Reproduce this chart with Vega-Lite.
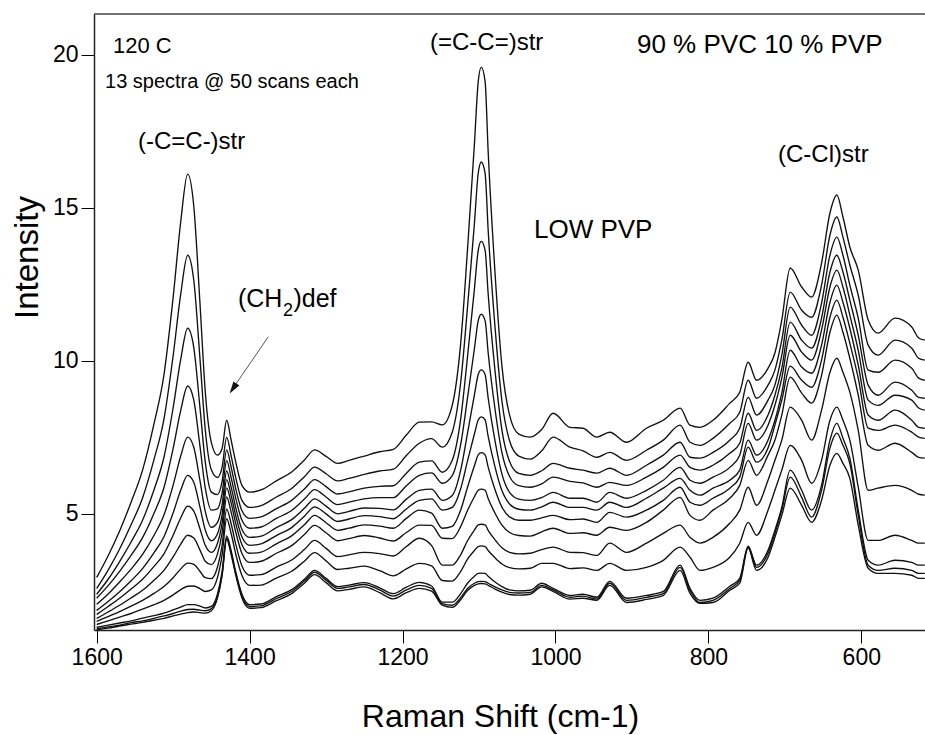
{
"$schema": "https://vega.github.io/schema/vega-lite/v6.json",
"width": 831, "height": 616,
"autosize": {"type": "none"},
"padding": {"left": 94, "top": 14, "right": 0, "bottom": 105},
"background": "white",
"config": {"font": "Liberation Sans", "view": {"stroke": null}},
"layer": [
{
"data": {"values": [
{"s":1,"x":1600,"y":2.91},{"s":1,"x":1585,"y":3.62},{"s":1,"x":1570,"y":4.43},{"s":1,"x":1555,"y":5.37},{"s":1,"x":1540,"y":6.42},{"s":1,"x":1525,"y":7.94},{"s":1,"x":1512,"y":9.54},{"s":1,"x":1500,"y":12.07},{"s":1,"x":1490,"y":14.56},{"s":1,"x":1481,"y":16.10},{"s":1,"x":1473,"y":15.05},{"s":1,"x":1465,"y":11.92},{"s":1,"x":1458,"y":8.99},{"s":1,"x":1450,"y":7.32},{"s":1,"x":1442,"y":6.91},{"s":1,"x":1436,"y":7.13},{"s":1,"x":1430,"y":8.05},{"s":1,"x":1424,"y":7.38},{"s":1,"x":1418,"y":6.67},{"s":1,"x":1410,"y":5.92},{"s":1,"x":1400,"y":5.70},
{"s":1,"x":1385,"y":5.77},{"s":1,"x":1365,"y":6.07},{"s":1,"x":1345,"y":6.36},{"s":1,"x":1328,"y":6.76},{"s":1,"x":1315,"y":7.08},{"s":1,"x":1300,"y":6.87},{"s":1,"x":1285,"y":6.64},{"s":1,"x":1270,"y":6.74},{"s":1,"x":1250,"y":6.88},{"s":1,"x":1230,"y":7.02},{"s":1,"x":1212,"y":7.10},{"s":1,"x":1195,"y":7.57},{"s":1,"x":1178,"y":7.99},{"s":1,"x":1162,"y":8.00},{"s":1,"x":1148,"y":7.90},
{"s":1,"x":1135,"y":8.54},{"s":1,"x":1124,"y":10.55},{"s":1,"x":1115,"y":13.64},{"s":1,"x":1106,"y":17.08},{"s":1,"x":1101,"y":19.13},{"s":1,"x":1097,"y":19.60},{"s":1,"x":1092,"y":19.13},{"s":1,"x":1088,"y":16.84},{"s":1,"x":1079,"y":12.86},{"s":1,"x":1070,"y":9.82},{"s":1,"x":1060,"y":8.22},{"s":1,"x":1048,"y":7.60},
{"s":1,"x":1033,"y":7.50},{"s":1,"x":1018,"y":7.75},{"s":1,"x":1003,"y":8.28},{"s":1,"x":981,"y":7.82},{"s":1,"x":964,"y":7.79},{"s":1,"x":946,"y":7.50},{"s":1,"x":929,"y":7.66},{"s":1,"x":907,"y":7.33},{"s":1,"x":881,"y":7.79},{"s":1,"x":859,"y":8.05},{"s":1,"x":837,"y":8.45},{"s":1,"x":824,"y":7.89},{"s":1,"x":811,"y":7.82},{"s":1,"x":794,"y":8.05},{"s":1,"x":772,"y":8.61},{"s":1,"x":759,"y":8.97},{"s":1,"x":748,"y":9.95},{"s":1,"x":737,"y":9.36},{"s":1,"x":722,"y":9.75},{"s":1,"x":713,"y":10.25},{"s":1,"x":704,"y":11.33},{"s":1,"x":693,"y":13.03},{"s":1,"x":678,"y":12.41},{"s":1,"x":665,"y":12.08},{"s":1,"x":652,"y":13.19},{"s":1,"x":641,"y":14.83},{"s":1,"x":632,"y":15.42},{"s":1,"x":624,"y":14.70},{"s":1,"x":615,"y":13.72},{"s":1,"x":604,"y":12.96},{"s":1,"x":591,"y":11.33},{"s":1,"x":578,"y":10.90},{"s":1,"x":556,"y":11.39},{"s":1,"x":534,"y":11.10},{"s":1,"x":525,"y":10.74},{"s":1,"x":517,"y":10.67},

{"s":2,"x":1600,"y":2.55},{"s":2,"x":1585,"y":3.15},{"s":2,"x":1570,"y":3.84},{"s":2,"x":1555,"y":4.63},{"s":2,"x":1540,"y":5.51},{"s":2,"x":1525,"y":6.77},{"s":2,"x":1512,"y":8.09},{"s":2,"x":1500,"y":10.16},{"s":2,"x":1490,"y":12.19},{"s":2,"x":1481,"y":13.45},{"s":2,"x":1473,"y":12.63},{"s":2,"x":1465,"y":10.10},{"s":2,"x":1458,"y":7.75},{"s":2,"x":1450,"y":6.43},{"s":2,"x":1442,"y":6.18},{"s":2,"x":1436,"y":6.51},{"s":2,"x":1430,"y":7.49},{"s":2,"x":1424,"y":6.87},{"s":2,"x":1418,"y":6.16},{"s":2,"x":1410,"y":5.43},{"s":2,"x":1400,"y":5.20},
{"s":2,"x":1385,"y":5.26},{"s":2,"x":1365,"y":5.54},{"s":2,"x":1345,"y":5.82},{"s":2,"x":1328,"y":6.21},{"s":2,"x":1315,"y":6.52},{"s":2,"x":1300,"y":6.30},{"s":2,"x":1285,"y":6.07},{"s":2,"x":1270,"y":6.15},{"s":2,"x":1250,"y":6.28},{"s":2,"x":1230,"y":6.39},{"s":2,"x":1212,"y":6.45},{"s":2,"x":1195,"y":6.90},{"s":2,"x":1178,"y":7.30},{"s":2,"x":1162,"y":7.45},{"s":2,"x":1148,"y":7.17},
{"s":2,"x":1135,"y":7.66},{"s":2,"x":1124,"y":9.27},{"s":2,"x":1115,"y":11.75},{"s":2,"x":1106,"y":14.48},{"s":2,"x":1101,"y":16.13},{"s":2,"x":1097,"y":16.50},{"s":2,"x":1092,"y":16.13},{"s":2,"x":1088,"y":14.27},{"s":2,"x":1079,"y":11.09},{"s":2,"x":1070,"y":8.68},{"s":2,"x":1060,"y":7.38},{"s":2,"x":1048,"y":6.88},
{"s":2,"x":1033,"y":6.78},{"s":2,"x":1018,"y":7.05},{"s":2,"x":1003,"y":7.50},{"s":2,"x":981,"y":7.17},{"s":2,"x":964,"y":7.05},{"s":2,"x":946,"y":6.84},{"s":2,"x":929,"y":7.00},{"s":2,"x":907,"y":6.74},{"s":2,"x":881,"y":7.07},{"s":2,"x":859,"y":7.40},{"s":2,"x":837,"y":7.89},{"s":2,"x":824,"y":7.33},{"s":2,"x":811,"y":7.23},{"s":2,"x":794,"y":7.46},{"s":2,"x":772,"y":7.95},{"s":2,"x":759,"y":8.31},{"s":2,"x":748,"y":9.36},{"s":2,"x":737,"y":8.77},{"s":2,"x":722,"y":9.20},{"s":2,"x":713,"y":9.69},{"s":2,"x":704,"y":10.67},{"s":2,"x":693,"y":12.24},{"s":2,"x":678,"y":11.65},{"s":2,"x":665,"y":11.42},{"s":2,"x":652,"y":12.47},{"s":2,"x":641,"y":14.11},{"s":2,"x":632,"y":14.70},{"s":2,"x":624,"y":14.04},{"s":2,"x":615,"y":13.13},{"s":2,"x":604,"y":12.14},{"s":2,"x":591,"y":10.51},{"s":2,"x":578,"y":10.18},{"s":2,"x":556,"y":10.67},{"s":2,"x":534,"y":10.41},{"s":2,"x":525,"y":10.08},{"s":2,"x":517,"y":10.02},

{"s":3,"x":1600,"y":2.36},{"s":3,"x":1585,"y":2.85},{"s":3,"x":1570,"y":3.43},{"s":3,"x":1555,"y":4.07},{"s":3,"x":1540,"y":4.78},{"s":3,"x":1525,"y":5.78},{"s":3,"x":1512,"y":6.84},{"s":3,"x":1500,"y":8.46},{"s":3,"x":1490,"y":10.06},{"s":3,"x":1481,"y":11.06},{"s":3,"x":1473,"y":10.43},{"s":3,"x":1465,"y":8.49},{"s":3,"x":1458,"y":6.69},{"s":3,"x":1450,"y":5.70},{"s":3,"x":1442,"y":5.62},{"s":3,"x":1436,"y":6.04},{"s":3,"x":1430,"y":7.08},{"s":3,"x":1424,"y":6.50},{"s":3,"x":1418,"y":5.80},{"s":3,"x":1410,"y":5.09},{"s":3,"x":1400,"y":4.84},
{"s":3,"x":1385,"y":4.89},{"s":3,"x":1365,"y":5.16},{"s":3,"x":1345,"y":5.43},{"s":3,"x":1328,"y":5.81},{"s":3,"x":1315,"y":6.11},{"s":3,"x":1300,"y":5.88},{"s":3,"x":1285,"y":5.64},{"s":3,"x":1270,"y":5.71},{"s":3,"x":1250,"y":5.83},{"s":3,"x":1230,"y":5.89},{"s":3,"x":1212,"y":5.91},{"s":3,"x":1195,"y":6.32},{"s":3,"x":1178,"y":6.68},{"s":3,"x":1162,"y":6.72},{"s":3,"x":1148,"y":6.35},
{"s":3,"x":1135,"y":6.74},{"s":3,"x":1124,"y":8.08},{"s":3,"x":1115,"y":10.13},{"s":3,"x":1106,"y":12.34},{"s":3,"x":1101,"y":13.61},{"s":3,"x":1097,"y":13.90},{"s":3,"x":1092,"y":13.61},{"s":3,"x":1088,"y":12.18},{"s":3,"x":1079,"y":9.66},{"s":3,"x":1070,"y":7.73},{"s":3,"x":1060,"y":6.70},{"s":3,"x":1048,"y":6.31},
{"s":3,"x":1033,"y":6.25},{"s":3,"x":1018,"y":6.40},{"s":3,"x":1003,"y":6.64},{"s":3,"x":981,"y":6.48},{"s":3,"x":964,"y":6.42},{"s":3,"x":946,"y":6.32},{"s":3,"x":929,"y":6.48},{"s":3,"x":907,"y":6.25},{"s":3,"x":881,"y":6.58},{"s":3,"x":859,"y":6.91},{"s":3,"x":837,"y":7.33},{"s":3,"x":824,"y":6.84},{"s":3,"x":811,"y":6.81},{"s":3,"x":794,"y":7.00},{"s":3,"x":772,"y":7.40},{"s":3,"x":759,"y":7.79},{"s":3,"x":748,"y":8.80},{"s":3,"x":737,"y":8.22},{"s":3,"x":722,"y":8.71},{"s":3,"x":713,"y":9.20},{"s":3,"x":704,"y":10.18},{"s":3,"x":693,"y":11.75},{"s":3,"x":678,"y":11.16},{"s":3,"x":665,"y":10.83},{"s":3,"x":652,"y":11.88},{"s":3,"x":641,"y":13.45},{"s":3,"x":632,"y":14.04},{"s":3,"x":624,"y":13.45},{"s":3,"x":615,"y":12.47},{"s":3,"x":604,"y":11.39},{"s":3,"x":591,"y":9.69},{"s":3,"x":578,"y":9.62},{"s":3,"x":556,"y":10.02},{"s":3,"x":534,"y":9.75},{"s":3,"x":525,"y":9.43},{"s":3,"x":517,"y":9.36},

{"s":4,"x":1600,"y":2.23},{"s":4,"x":1585,"y":2.64},{"s":4,"x":1570,"y":3.11},{"s":4,"x":1555,"y":3.63},{"s":4,"x":1540,"y":4.21},{"s":4,"x":1525,"y":5.01},{"s":4,"x":1512,"y":5.85},{"s":4,"x":1500,"y":7.13},{"s":4,"x":1490,"y":8.38},{"s":4,"x":1481,"y":9.17},{"s":4,"x":1473,"y":8.71},{"s":4,"x":1465,"y":7.22},{"s":4,"x":1458,"y":5.84},{"s":4,"x":1450,"y":5.11},{"s":4,"x":1442,"y":5.15},{"s":4,"x":1436,"y":5.66},{"s":4,"x":1430,"y":6.73},{"s":4,"x":1424,"y":6.16},{"s":4,"x":1418,"y":5.49},{"s":4,"x":1410,"y":4.78},{"s":4,"x":1400,"y":4.52},
{"s":4,"x":1385,"y":4.56},{"s":4,"x":1365,"y":4.84},{"s":4,"x":1345,"y":5.10},{"s":4,"x":1328,"y":5.48},{"s":4,"x":1315,"y":5.78},{"s":4,"x":1300,"y":5.54},{"s":4,"x":1285,"y":5.29},{"s":4,"x":1270,"y":5.37},{"s":4,"x":1250,"y":5.48},{"s":4,"x":1230,"y":5.52},{"s":4,"x":1212,"y":5.52},{"s":4,"x":1195,"y":5.91},{"s":4,"x":1178,"y":6.25},{"s":4,"x":1162,"y":6.33},{"s":4,"x":1148,"y":5.99},
{"s":4,"x":1135,"y":6.24},{"s":4,"x":1124,"y":7.25},{"s":4,"x":1115,"y":8.78},{"s":4,"x":1106,"y":10.39},{"s":4,"x":1101,"y":11.31},{"s":4,"x":1097,"y":11.52},{"s":4,"x":1092,"y":11.31},{"s":4,"x":1088,"y":10.26},{"s":4,"x":1079,"y":8.41},{"s":4,"x":1070,"y":6.99},{"s":4,"x":1060,"y":6.21},{"s":4,"x":1048,"y":5.91},
{"s":4,"x":1033,"y":5.86},{"s":4,"x":1018,"y":5.97},{"s":4,"x":1003,"y":6.19},{"s":4,"x":981,"y":6.05},{"s":4,"x":964,"y":6.00},{"s":4,"x":946,"y":5.86},{"s":4,"x":929,"y":6.02},{"s":4,"x":907,"y":5.92},{"s":4,"x":881,"y":6.19},{"s":4,"x":859,"y":6.51},{"s":4,"x":837,"y":6.91},{"s":4,"x":824,"y":6.51},{"s":4,"x":811,"y":6.42},{"s":4,"x":794,"y":6.58},{"s":4,"x":772,"y":6.97},{"s":4,"x":759,"y":7.30},{"s":4,"x":748,"y":8.28},{"s":4,"x":737,"y":7.72},{"s":4,"x":722,"y":8.22},{"s":4,"x":713,"y":8.87},{"s":4,"x":704,"y":9.75},{"s":4,"x":693,"y":11.26},{"s":4,"x":678,"y":10.67},{"s":4,"x":665,"y":10.41},{"s":4,"x":652,"y":11.39},{"s":4,"x":641,"y":12.90},{"s":4,"x":632,"y":13.45},{"s":4,"x":624,"y":12.90},{"s":4,"x":615,"y":11.98},{"s":4,"x":604,"y":10.83},{"s":4,"x":591,"y":9.20},{"s":4,"x":578,"y":8.87},{"s":4,"x":556,"y":9.30},{"s":4,"x":534,"y":9.03},{"s":4,"x":525,"y":8.80},{"s":4,"x":517,"y":8.77},

{"s":5,"x":1600,"y":2.03},{"s":5,"x":1585,"y":2.37},{"s":5,"x":1570,"y":2.76},{"s":5,"x":1555,"y":3.18},{"s":5,"x":1540,"y":3.66},{"s":5,"x":1525,"y":4.29},{"s":5,"x":1512,"y":4.95},{"s":5,"x":1500,"y":5.93},{"s":5,"x":1490,"y":6.89},{"s":5,"x":1481,"y":7.50},{"s":5,"x":1473,"y":7.17},{"s":5,"x":1465,"y":6.09},{"s":5,"x":1458,"y":5.07},{"s":5,"x":1450,"y":4.55},{"s":5,"x":1442,"y":4.71},{"s":5,"x":1436,"y":5.28},{"s":5,"x":1430,"y":6.39},{"s":5,"x":1424,"y":5.85},{"s":5,"x":1418,"y":5.18},{"s":5,"x":1410,"y":4.48},{"s":5,"x":1400,"y":4.22},
{"s":5,"x":1385,"y":4.26},{"s":5,"x":1365,"y":4.54},{"s":5,"x":1345,"y":4.80},{"s":5,"x":1328,"y":5.18},{"s":5,"x":1315,"y":5.48},{"s":5,"x":1300,"y":5.24},{"s":5,"x":1285,"y":4.99},{"s":5,"x":1270,"y":5.07},{"s":5,"x":1250,"y":5.18},{"s":5,"x":1230,"y":5.17},{"s":5,"x":1212,"y":5.12},{"s":5,"x":1195,"y":5.47},{"s":5,"x":1178,"y":5.76},{"s":5,"x":1162,"y":5.80},{"s":5,"x":1148,"y":5.43},
{"s":5,"x":1135,"y":5.59},{"s":5,"x":1124,"y":6.41},{"s":5,"x":1115,"y":7.63},{"s":5,"x":1106,"y":8.88},{"s":5,"x":1101,"y":9.55},{"s":5,"x":1097,"y":9.70},{"s":5,"x":1092,"y":9.55},{"s":5,"x":1088,"y":8.78},{"s":5,"x":1079,"y":7.37},{"s":5,"x":1070,"y":6.29},{"s":5,"x":1060,"y":5.69},{"s":5,"x":1048,"y":5.47},
{"s":5,"x":1033,"y":5.43},{"s":5,"x":1018,"y":5.52},{"s":5,"x":1003,"y":5.69},{"s":5,"x":981,"y":5.50},{"s":5,"x":964,"y":5.50},{"s":5,"x":946,"y":5.37},{"s":5,"x":929,"y":5.69},{"s":5,"x":907,"y":5.50},{"s":5,"x":881,"y":5.76},{"s":5,"x":859,"y":6.09},{"s":5,"x":837,"y":6.51},{"s":5,"x":824,"y":6.09},{"s":5,"x":811,"y":5.99},{"s":5,"x":794,"y":6.19},{"s":5,"x":772,"y":6.51},{"s":5,"x":759,"y":6.91},{"s":5,"x":748,"y":7.95},{"s":5,"x":737,"y":7.40},{"s":5,"x":722,"y":7.89},{"s":5,"x":713,"y":8.54},{"s":5,"x":704,"y":9.43},{"s":5,"x":693,"y":10.83},{"s":5,"x":678,"y":10.28},{"s":5,"x":665,"y":10.02},{"s":5,"x":652,"y":11.00},{"s":5,"x":641,"y":12.41},{"s":5,"x":632,"y":12.96},{"s":5,"x":624,"y":12.41},{"s":5,"x":615,"y":11.49},{"s":5,"x":604,"y":10.34},{"s":5,"x":591,"y":8.71},{"s":5,"x":578,"y":8.54},{"s":5,"x":556,"y":8.87},{"s":5,"x":534,"y":8.71},{"s":5,"x":525,"y":8.45},{"s":5,"x":517,"y":8.38},

{"s":6,"x":1600,"y":1.83},{"s":6,"x":1585,"y":2.12},{"s":6,"x":1570,"y":2.44},{"s":6,"x":1555,"y":2.80},{"s":6,"x":1540,"y":3.20},{"s":6,"x":1525,"y":3.72},{"s":6,"x":1512,"y":4.24},{"s":6,"x":1500,"y":5.02},{"s":6,"x":1490,"y":5.77},{"s":6,"x":1481,"y":6.25},{"s":6,"x":1473,"y":6.02},{"s":6,"x":1465,"y":5.22},{"s":6,"x":1458,"y":4.46},{"s":6,"x":1450,"y":4.11},{"s":6,"x":1442,"y":4.34},{"s":6,"x":1436,"y":4.96},{"s":6,"x":1430,"y":6.11},{"s":6,"x":1424,"y":5.58},{"s":6,"x":1418,"y":4.92},{"s":6,"x":1410,"y":4.23},{"s":6,"x":1400,"y":3.96},
{"s":6,"x":1385,"y":4.01},{"s":6,"x":1365,"y":4.28},{"s":6,"x":1345,"y":4.54},{"s":6,"x":1328,"y":4.92},{"s":6,"x":1315,"y":5.22},{"s":6,"x":1300,"y":4.99},{"s":6,"x":1285,"y":4.74},{"s":6,"x":1270,"y":4.82},{"s":6,"x":1250,"y":4.93},{"s":6,"x":1230,"y":4.90},{"s":6,"x":1212,"y":4.83},{"s":6,"x":1195,"y":5.15},{"s":6,"x":1178,"y":5.43},{"s":6,"x":1162,"y":5.48},{"s":6,"x":1148,"y":5.11},
{"s":6,"x":1135,"y":5.20},{"s":6,"x":1124,"y":5.81},{"s":6,"x":1115,"y":6.72},{"s":6,"x":1106,"y":7.60},{"s":6,"x":1101,"y":8.06},{"s":6,"x":1097,"y":8.16},{"s":6,"x":1092,"y":8.06},{"s":6,"x":1088,"y":7.52},{"s":6,"x":1079,"y":6.52},{"s":6,"x":1070,"y":5.75},{"s":6,"x":1060,"y":5.31},{"s":6,"x":1048,"y":5.14},
{"s":6,"x":1033,"y":5.11},{"s":6,"x":1018,"y":5.22},{"s":6,"x":1003,"y":5.37},{"s":6,"x":981,"y":5.20},{"s":6,"x":964,"y":5.20},{"s":6,"x":946,"y":5.11},{"s":6,"x":929,"y":5.37},{"s":6,"x":907,"y":5.20},{"s":6,"x":881,"y":5.50},{"s":6,"x":859,"y":5.83},{"s":6,"x":837,"y":6.15},{"s":6,"x":824,"y":5.76},{"s":6,"x":811,"y":5.60},{"s":6,"x":794,"y":5.83},{"s":6,"x":772,"y":6.09},{"s":6,"x":759,"y":6.42},{"s":6,"x":748,"y":7.40},{"s":6,"x":737,"y":6.91},{"s":6,"x":722,"y":7.40},{"s":6,"x":713,"y":8.05},{"s":6,"x":704,"y":8.94},{"s":6,"x":693,"y":10.34},{"s":6,"x":678,"y":9.79},{"s":6,"x":665,"y":9.59},{"s":6,"x":652,"y":10.51},{"s":6,"x":641,"y":11.91},{"s":6,"x":632,"y":12.47},{"s":6,"x":624,"y":11.91},{"s":6,"x":615,"y":11.06},{"s":6,"x":604,"y":9.85},{"s":6,"x":591,"y":8.22},{"s":6,"x":578,"y":8.05},{"s":6,"x":556,"y":8.38},{"s":6,"x":534,"y":8.05},{"s":6,"x":525,"y":7.82},{"s":6,"x":517,"y":7.79},

{"s":7,"x":1600,"y":1.70},{"s":7,"x":1585,"y":1.96},{"s":7,"x":1570,"y":2.23},{"s":7,"x":1555,"y":2.53},{"s":7,"x":1540,"y":2.85},{"s":7,"x":1525,"y":3.27},{"s":7,"x":1512,"y":3.68},{"s":7,"x":1500,"y":4.29},{"s":7,"x":1490,"y":4.86},{"s":7,"x":1481,"y":5.24},{"s":7,"x":1473,"y":5.08},{"s":7,"x":1465,"y":4.51},{"s":7,"x":1458,"y":3.96},{"s":7,"x":1450,"y":3.73},{"s":7,"x":1442,"y":4.03},{"s":7,"x":1436,"y":4.68},{"s":7,"x":1430,"y":5.84},{"s":7,"x":1424,"y":5.33},{"s":7,"x":1418,"y":4.66},{"s":7,"x":1410,"y":3.98},{"s":7,"x":1400,"y":3.70},
{"s":7,"x":1385,"y":3.74},{"s":7,"x":1365,"y":4.01},{"s":7,"x":1345,"y":4.27},{"s":7,"x":1328,"y":4.64},{"s":7,"x":1315,"y":4.94},{"s":7,"x":1300,"y":4.70},{"s":7,"x":1285,"y":4.45},{"s":7,"x":1270,"y":4.52},{"s":7,"x":1250,"y":4.63},{"s":7,"x":1230,"y":4.59},{"s":7,"x":1212,"y":4.52},{"s":7,"x":1195,"y":4.84},{"s":7,"x":1178,"y":5.11},{"s":7,"x":1162,"y":5.01},{"s":7,"x":1148,"y":4.52},
{"s":7,"x":1135,"y":4.58},{"s":7,"x":1124,"y":5.11},{"s":7,"x":1115,"y":5.86},{"s":7,"x":1106,"y":6.56},{"s":7,"x":1101,"y":6.92},{"s":7,"x":1097,"y":6.99},{"s":7,"x":1092,"y":6.92},{"s":7,"x":1088,"y":6.52},{"s":7,"x":1079,"y":5.78},{"s":7,"x":1070,"y":5.21},{"s":7,"x":1060,"y":4.89},{"s":7,"x":1048,"y":4.78},
{"s":7,"x":1033,"y":4.78},{"s":7,"x":1018,"y":4.86},{"s":7,"x":1003,"y":4.94},{"s":7,"x":981,"y":4.80},{"s":7,"x":964,"y":4.82},{"s":7,"x":946,"y":4.71},{"s":7,"x":929,"y":5.04},{"s":7,"x":907,"y":4.88},{"s":7,"x":881,"y":5.11},{"s":7,"x":859,"y":5.43},{"s":7,"x":837,"y":5.86},{"s":7,"x":824,"y":5.37},{"s":7,"x":811,"y":5.27},{"s":7,"x":794,"y":5.50},{"s":7,"x":772,"y":5.83},{"s":7,"x":759,"y":6.19},{"s":7,"x":748,"y":7.17},{"s":7,"x":737,"y":6.68},{"s":7,"x":722,"y":7.14},{"s":7,"x":713,"y":7.89},{"s":7,"x":704,"y":8.71},{"s":7,"x":693,"y":9.82},{"s":7,"x":678,"y":9.36},{"s":7,"x":665,"y":9.13},{"s":7,"x":652,"y":10.02},{"s":7,"x":641,"y":11.42},{"s":7,"x":632,"y":11.98},{"s":7,"x":624,"y":11.42},{"s":7,"x":615,"y":10.57},{"s":7,"x":604,"y":9.43},{"s":7,"x":591,"y":7.79},{"s":7,"x":578,"y":7.72},{"s":7,"x":556,"y":7.89},{"s":7,"x":534,"y":7.66},{"s":7,"x":525,"y":7.50},{"s":7,"x":517,"y":7.46},

{"s":8,"x":1600,"y":1.57},{"s":8,"x":1585,"y":1.78},{"s":8,"x":1570,"y":2.00},{"s":8,"x":1555,"y":2.24},{"s":8,"x":1540,"y":2.49},{"s":8,"x":1525,"y":2.82},{"s":8,"x":1512,"y":3.14},{"s":8,"x":1500,"y":3.58},{"s":8,"x":1490,"y":4.00},{"s":8,"x":1481,"y":4.29},{"s":8,"x":1473,"y":4.20},{"s":8,"x":1465,"y":3.81},{"s":8,"x":1458,"y":3.44},{"s":8,"x":1450,"y":3.33},{"s":8,"x":1442,"y":3.68},{"s":8,"x":1436,"y":4.36},{"s":8,"x":1430,"y":5.54},{"s":8,"x":1424,"y":5.03},{"s":8,"x":1418,"y":4.38},{"s":8,"x":1410,"y":3.69},{"s":8,"x":1400,"y":3.40},
{"s":8,"x":1385,"y":3.44},{"s":8,"x":1365,"y":3.70},{"s":8,"x":1345,"y":3.95},{"s":8,"x":1328,"y":4.32},{"s":8,"x":1315,"y":4.61},{"s":8,"x":1300,"y":4.37},{"s":8,"x":1285,"y":4.11},{"s":8,"x":1270,"y":4.18},{"s":8,"x":1250,"y":4.28},{"s":8,"x":1230,"y":4.20},{"s":8,"x":1212,"y":4.10},{"s":8,"x":1195,"y":4.38},{"s":8,"x":1178,"y":4.62},{"s":8,"x":1162,"y":4.61},{"s":8,"x":1148,"y":4.19},
{"s":8,"x":1135,"y":4.18},{"s":8,"x":1124,"y":4.57},{"s":8,"x":1115,"y":5.10},{"s":8,"x":1106,"y":5.55},{"s":8,"x":1101,"y":5.76},{"s":8,"x":1097,"y":5.80},{"s":8,"x":1092,"y":5.76},{"s":8,"x":1088,"y":5.49},{"s":8,"x":1079,"y":5.01},{"s":8,"x":1070,"y":4.62},{"s":8,"x":1060,"y":4.38},{"s":8,"x":1048,"y":4.28},
{"s":8,"x":1033,"y":4.26},{"s":8,"x":1018,"y":4.40},{"s":8,"x":1003,"y":4.52},{"s":8,"x":981,"y":4.35},{"s":8,"x":964,"y":4.37},{"s":8,"x":946,"y":4.29},{"s":8,"x":929,"y":4.55},{"s":8,"x":907,"y":4.45},{"s":8,"x":881,"y":4.71},{"s":8,"x":859,"y":5.11},{"s":8,"x":837,"y":5.53},{"s":8,"x":824,"y":4.94},{"s":8,"x":811,"y":4.78},{"s":8,"x":794,"y":5.11},{"s":8,"x":772,"y":5.50},{"s":8,"x":759,"y":5.92},{"s":8,"x":748,"y":6.74},{"s":8,"x":737,"y":6.25},{"s":8,"x":722,"y":6.91},{"s":8,"x":713,"y":7.40},{"s":8,"x":704,"y":8.22},{"s":8,"x":693,"y":9.46},{"s":8,"x":678,"y":8.94},{"s":8,"x":665,"y":8.61},{"s":8,"x":652,"y":9.52},{"s":8,"x":641,"y":10.93},{"s":8,"x":632,"y":11.49},{"s":8,"x":624,"y":10.93},{"s":8,"x":615,"y":10.08},{"s":8,"x":604,"y":8.87},{"s":8,"x":591,"y":7.23},{"s":8,"x":578,"y":7.07},{"s":8,"x":556,"y":7.30},{"s":8,"x":534,"y":7.00},{"s":8,"x":525,"y":6.84},{"s":8,"x":517,"y":6.81},

{"s":9,"x":1600,"y":1.47},{"s":9,"x":1585,"y":1.63},{"s":9,"x":1570,"y":1.79},{"s":9,"x":1555,"y":1.97},{"s":9,"x":1540,"y":2.16},{"s":9,"x":1525,"y":2.39},{"s":9,"x":1512,"y":2.61},{"s":9,"x":1500,"y":2.90},{"s":9,"x":1490,"y":3.19},{"s":9,"x":1481,"y":3.38},{"s":9,"x":1473,"y":3.34},{"s":9,"x":1465,"y":3.11},{"s":9,"x":1458,"y":2.90},{"s":9,"x":1450,"y":2.87},{"s":9,"x":1442,"y":3.25},{"s":9,"x":1436,"y":3.95},{"s":9,"x":1430,"y":5.14},{"s":9,"x":1424,"y":4.65},{"s":9,"x":1418,"y":3.98},{"s":9,"x":1410,"y":3.28},{"s":9,"x":1400,"y":2.98},
{"s":9,"x":1385,"y":3.00},{"s":9,"x":1365,"y":3.25},{"s":9,"x":1345,"y":3.48},{"s":9,"x":1328,"y":3.83},{"s":9,"x":1315,"y":4.12},{"s":9,"x":1300,"y":3.86},{"s":9,"x":1285,"y":3.59},{"s":9,"x":1270,"y":3.65},{"s":9,"x":1250,"y":3.73},{"s":9,"x":1230,"y":3.69},{"s":9,"x":1212,"y":3.61},{"s":9,"x":1195,"y":3.92},{"s":9,"x":1178,"y":4.19},{"s":9,"x":1162,"y":3.95},{"s":9,"x":1148,"y":3.31},
{"s":9,"x":1135,"y":3.31},{"s":9,"x":1124,"y":3.65},{"s":9,"x":1115,"y":4.11},{"s":9,"x":1106,"y":4.46},{"s":9,"x":1101,"y":4.63},{"s":9,"x":1097,"y":4.65},{"s":9,"x":1092,"y":4.63},{"s":9,"x":1088,"y":4.45},{"s":9,"x":1079,"y":4.14},{"s":9,"x":1070,"y":3.88},{"s":9,"x":1060,"y":3.73},{"s":9,"x":1048,"y":3.68},
{"s":9,"x":1033,"y":3.70},{"s":9,"x":1018,"y":3.82},{"s":9,"x":1003,"y":3.90},{"s":9,"x":981,"y":3.73},{"s":9,"x":964,"y":3.72},{"s":9,"x":946,"y":3.63},{"s":9,"x":929,"y":4.03},{"s":9,"x":907,"y":3.73},{"s":9,"x":881,"y":4.03},{"s":9,"x":859,"y":4.35},{"s":9,"x":837,"y":4.62},{"s":9,"x":824,"y":4.22},{"s":9,"x":811,"y":4.03},{"s":9,"x":794,"y":4.22},{"s":9,"x":772,"y":4.68},{"s":9,"x":759,"y":5.11},{"s":9,"x":748,"y":5.86},{"s":9,"x":737,"y":5.27},{"s":9,"x":722,"y":6.09},{"s":9,"x":713,"y":6.74},{"s":9,"x":704,"y":7.40},{"s":9,"x":693,"y":8.48},{"s":9,"x":678,"y":8.05},{"s":9,"x":665,"y":7.40},{"s":9,"x":652,"y":8.38},{"s":9,"x":641,"y":9.62},{"s":9,"x":632,"y":10.08},{"s":9,"x":624,"y":9.62},{"s":9,"x":615,"y":8.97},{"s":9,"x":604,"y":7.72},{"s":9,"x":591,"y":5.76},{"s":9,"x":578,"y":5.83},{"s":9,"x":556,"y":5.92},{"s":9,"x":534,"y":5.76},{"s":9,"x":525,"y":5.63},{"s":9,"x":517,"y":5.60},

{"s":10,"x":1600,"y":1.37},{"s":10,"x":1585,"y":1.49},{"s":10,"x":1570,"y":1.61},{"s":10,"x":1555,"y":1.73},{"s":10,"x":1540,"y":1.87},{"s":10,"x":1525,"y":2.02},{"s":10,"x":1512,"y":2.16},{"s":10,"x":1500,"y":2.34},{"s":10,"x":1490,"y":2.51},{"s":10,"x":1481,"y":2.62},{"s":10,"x":1473,"y":2.63},{"s":10,"x":1465,"y":2.54},{"s":10,"x":1458,"y":2.45},{"s":10,"x":1450,"y":2.50},{"s":10,"x":1442,"y":2.91},{"s":10,"x":1436,"y":3.64},{"s":10,"x":1430,"y":4.83},{"s":10,"x":1424,"y":4.33},{"s":10,"x":1418,"y":3.66},{"s":10,"x":1410,"y":2.97},{"s":10,"x":1400,"y":2.65},
{"s":10,"x":1385,"y":2.66},{"s":10,"x":1365,"y":2.89},{"s":10,"x":1345,"y":3.11},{"s":10,"x":1328,"y":3.45},{"s":10,"x":1315,"y":3.72},{"s":10,"x":1300,"y":3.45},{"s":10,"x":1285,"y":3.17},{"s":10,"x":1270,"y":3.21},{"s":10,"x":1250,"y":3.28},{"s":10,"x":1230,"y":3.13},{"s":10,"x":1212,"y":2.96},{"s":10,"x":1195,"y":3.19},{"s":10,"x":1178,"y":3.37},{"s":10,"x":1162,"y":3.29},{"s":10,"x":1148,"y":2.81},
{"s":10,"x":1135,"y":2.79},{"s":10,"x":1124,"y":3.10},{"s":10,"x":1115,"y":3.51},{"s":10,"x":1106,"y":3.79},{"s":10,"x":1101,"y":3.92},{"s":10,"x":1097,"y":3.94},{"s":10,"x":1092,"y":3.92},{"s":10,"x":1088,"y":3.79},{"s":10,"x":1079,"y":3.55},{"s":10,"x":1070,"y":3.35},{"s":10,"x":1060,"y":3.23},{"s":10,"x":1048,"y":3.19},
{"s":10,"x":1033,"y":3.21},{"s":10,"x":1018,"y":3.37},{"s":10,"x":1003,"y":3.37},{"s":10,"x":981,"y":3.20},{"s":10,"x":964,"y":3.22},{"s":10,"x":946,"y":3.14},{"s":10,"x":929,"y":3.37},{"s":10,"x":907,"y":3.14},{"s":10,"x":881,"y":3.24},{"s":10,"x":859,"y":3.47},{"s":10,"x":837,"y":3.90},{"s":10,"x":824,"y":3.57},{"s":10,"x":811,"y":3.14},{"s":10,"x":794,"y":3.24},{"s":10,"x":772,"y":3.57},{"s":10,"x":759,"y":4.03},{"s":10,"x":748,"y":4.71},{"s":10,"x":737,"y":4.29},{"s":10,"x":722,"y":5.11},{"s":10,"x":713,"y":5.76},{"s":10,"x":704,"y":6.42},{"s":10,"x":693,"y":7.23},{"s":10,"x":678,"y":6.74},{"s":10,"x":665,"y":5.99},{"s":10,"x":652,"y":6.74},{"s":10,"x":641,"y":8.05},{"s":10,"x":632,"y":8.48},{"s":10,"x":624,"y":8.05},{"s":10,"x":615,"y":7.40},{"s":10,"x":604,"y":5.86},{"s":10,"x":591,"y":4.12},{"s":10,"x":578,"y":4.12},{"s":10,"x":556,"y":4.29},{"s":10,"x":534,"y":4.12},{"s":10,"x":525,"y":4.03},{"s":10,"x":517,"y":4.03},

{"s":11,"x":1600,"y":1.28},{"s":11,"x":1585,"y":1.35},{"s":11,"x":1570,"y":1.42},{"s":11,"x":1555,"y":1.49},{"s":11,"x":1540,"y":1.58},{"s":11,"x":1525,"y":1.66},{"s":11,"x":1512,"y":1.74},{"s":11,"x":1500,"y":1.85},{"s":11,"x":1490,"y":1.94},{"s":11,"x":1481,"y":2.02},{"s":11,"x":1473,"y":2.02},{"s":11,"x":1465,"y":1.97},{"s":11,"x":1458,"y":1.91},{"s":11,"x":1450,"y":1.96},{"s":11,"x":1442,"y":2.37},{"s":11,"x":1436,"y":3.09},{"s":11,"x":1430,"y":4.27},{"s":11,"x":1424,"y":3.77},{"s":11,"x":1418,"y":3.08},{"s":11,"x":1410,"y":2.36},{"s":11,"x":1400,"y":2.02},
{"s":11,"x":1385,"y":2.04},{"s":11,"x":1365,"y":2.28},{"s":11,"x":1345,"y":2.51},{"s":11,"x":1328,"y":2.86},{"s":11,"x":1315,"y":3.14},{"s":11,"x":1300,"y":2.88},{"s":11,"x":1285,"y":2.61},{"s":11,"x":1270,"y":2.66},{"s":11,"x":1250,"y":2.74},{"s":11,"x":1230,"y":2.57},{"s":11,"x":1212,"y":2.38},{"s":11,"x":1195,"y":2.59},{"s":11,"x":1178,"y":2.75},{"s":11,"x":1162,"y":2.63},{"s":11,"x":1148,"y":2.10},
{"s":11,"x":1135,"y":2.10},{"s":11,"x":1124,"y":2.38},{"s":11,"x":1115,"y":2.72},{"s":11,"x":1106,"y":2.95},{"s":11,"x":1101,"y":3.04},{"s":11,"x":1097,"y":3.05},{"s":11,"x":1092,"y":3.04},{"s":11,"x":1088,"y":2.95},{"s":11,"x":1079,"y":2.76},{"s":11,"x":1070,"y":2.61},{"s":11,"x":1060,"y":2.50},{"s":11,"x":1048,"y":2.47},
{"s":11,"x":1033,"y":2.49},{"s":11,"x":1018,"y":2.72},{"s":11,"x":1003,"y":2.55},{"s":11,"x":981,"y":2.32},{"s":11,"x":964,"y":2.36},{"s":11,"x":946,"y":2.26},{"s":11,"x":929,"y":2.78},{"s":11,"x":907,"y":2.23},{"s":11,"x":881,"y":2.32},{"s":11,"x":859,"y":2.45},{"s":11,"x":837,"y":3.31},{"s":11,"x":824,"y":2.55},{"s":11,"x":811,"y":2.16},{"s":11,"x":794,"y":2.23},{"s":11,"x":772,"y":2.62},{"s":11,"x":759,"y":2.88},{"s":11,"x":748,"y":3.93},{"s":11,"x":737,"y":3.31},{"s":11,"x":722,"y":3.80},{"s":11,"x":713,"y":4.45},{"s":11,"x":704,"y":5.20},{"s":11,"x":693,"y":6.42},{"s":11,"x":678,"y":5.76},{"s":11,"x":665,"y":5.11},{"s":11,"x":652,"y":5.92},{"s":11,"x":641,"y":7.40},{"s":11,"x":632,"y":7.95},{"s":11,"x":624,"y":7.46},{"s":11,"x":615,"y":6.81},{"s":11,"x":604,"y":5.11},{"s":11,"x":591,"y":3.47},{"s":11,"x":578,"y":3.31},{"s":11,"x":556,"y":3.47},{"s":11,"x":534,"y":3.40},{"s":11,"x":525,"y":3.31},{"s":11,"x":517,"y":3.31},

{"s":12,"x":1600,"y":1.23},{"s":12,"x":1585,"y":1.29},{"s":12,"x":1570,"y":1.35},{"s":12,"x":1555,"y":1.43},{"s":12,"x":1540,"y":1.49},{"s":12,"x":1525,"y":1.57},{"s":12,"x":1512,"y":1.65},{"s":12,"x":1500,"y":1.73},{"s":12,"x":1490,"y":1.81},{"s":12,"x":1481,"y":1.86},{"s":12,"x":1473,"y":1.87},{"s":12,"x":1465,"y":1.84},{"s":12,"x":1458,"y":1.82},{"s":12,"x":1450,"y":1.89},{"s":12,"x":1442,"y":2.29},{"s":12,"x":1436,"y":3.02},{"s":12,"x":1430,"y":4.21},{"s":12,"x":1424,"y":3.70},{"s":12,"x":1418,"y":3.02},{"s":12,"x":1410,"y":2.30},{"s":12,"x":1400,"y":1.96},
{"s":12,"x":1385,"y":1.98},{"s":12,"x":1365,"y":2.22},{"s":12,"x":1345,"y":2.45},{"s":12,"x":1328,"y":2.80},{"s":12,"x":1315,"y":3.08},{"s":12,"x":1300,"y":2.82},{"s":12,"x":1285,"y":2.55},{"s":12,"x":1270,"y":2.60},{"s":12,"x":1250,"y":2.68},{"s":12,"x":1230,"y":2.50},{"s":12,"x":1212,"y":2.30},{"s":12,"x":1195,"y":2.50},{"s":12,"x":1178,"y":2.65},{"s":12,"x":1162,"y":2.55},{"s":12,"x":1148,"y":2.05},
{"s":12,"x":1135,"y":2.00},{"s":12,"x":1124,"y":2.25},{"s":12,"x":1115,"y":2.55},{"s":12,"x":1106,"y":2.72},{"s":12,"x":1101,"y":2.77},{"s":12,"x":1097,"y":2.78},{"s":12,"x":1092,"y":2.77},{"s":12,"x":1088,"y":2.72},{"s":12,"x":1079,"y":2.60},{"s":12,"x":1070,"y":2.50},{"s":12,"x":1060,"y":2.42},{"s":12,"x":1048,"y":2.40},
{"s":12,"x":1033,"y":2.42},{"s":12,"x":1018,"y":2.65},{"s":12,"x":1003,"y":2.50},{"s":12,"x":981,"y":2.26},{"s":12,"x":964,"y":2.30},{"s":12,"x":946,"y":2.20},{"s":12,"x":929,"y":2.72},{"s":12,"x":907,"y":2.16},{"s":12,"x":881,"y":2.26},{"s":12,"x":859,"y":2.39},{"s":12,"x":837,"y":3.24},{"s":12,"x":824,"y":2.49},{"s":12,"x":811,"y":2.09},{"s":12,"x":794,"y":2.16},{"s":12,"x":772,"y":2.55},{"s":12,"x":759,"y":2.81},{"s":12,"x":748,"y":3.90},{"s":12,"x":737,"y":3.24},{"s":12,"x":722,"y":3.70},{"s":12,"x":713,"y":4.35},{"s":12,"x":704,"y":5.11},{"s":12,"x":693,"y":6.19},{"s":12,"x":678,"y":5.53},{"s":12,"x":665,"y":4.88},{"s":12,"x":652,"y":5.76},{"s":12,"x":641,"y":7.14},{"s":12,"x":632,"y":7.63},{"s":12,"x":624,"y":7.23},{"s":12,"x":615,"y":6.64},{"s":12,"x":604,"y":4.94},{"s":12,"x":591,"y":3.31},{"s":12,"x":578,"y":3.14},{"s":12,"x":556,"y":3.21},{"s":12,"x":534,"y":3.14},{"s":12,"x":525,"y":3.04},{"s":12,"x":517,"y":3.04},

{"s":13,"x":1600,"y":1.20},{"s":13,"x":1585,"y":1.25},{"s":13,"x":1570,"y":1.32},{"s":13,"x":1555,"y":1.38},{"s":13,"x":1540,"y":1.44},{"s":13,"x":1525,"y":1.51},{"s":13,"x":1512,"y":1.57},{"s":13,"x":1500,"y":1.65},{"s":13,"x":1490,"y":1.71},{"s":13,"x":1481,"y":1.76},{"s":13,"x":1473,"y":1.78},{"s":13,"x":1465,"y":1.76},{"s":13,"x":1458,"y":1.74},{"s":13,"x":1450,"y":1.82},{"s":13,"x":1442,"y":2.24},{"s":13,"x":1436,"y":2.96},{"s":13,"x":1430,"y":4.15},{"s":13,"x":1424,"y":3.64},{"s":13,"x":1418,"y":2.97},{"s":13,"x":1410,"y":2.24},{"s":13,"x":1400,"y":1.90},
{"s":13,"x":1385,"y":1.92},{"s":13,"x":1365,"y":2.15},{"s":13,"x":1345,"y":2.38},{"s":13,"x":1328,"y":2.73},{"s":13,"x":1315,"y":3.00},{"s":13,"x":1300,"y":2.74},{"s":13,"x":1285,"y":2.47},{"s":13,"x":1270,"y":2.52},{"s":13,"x":1250,"y":2.60},{"s":13,"x":1230,"y":2.41},{"s":13,"x":1212,"y":2.21},{"s":13,"x":1195,"y":2.41},{"s":13,"x":1178,"y":2.55},{"s":13,"x":1162,"y":2.46},{"s":13,"x":1148,"y":2.00},
{"s":13,"x":1135,"y":1.93},{"s":13,"x":1124,"y":2.18},{"s":13,"x":1115,"y":2.48},{"s":13,"x":1106,"y":2.65},{"s":13,"x":1101,"y":2.70},{"s":13,"x":1097,"y":2.71},{"s":13,"x":1092,"y":2.70},{"s":13,"x":1088,"y":2.65},{"s":13,"x":1079,"y":2.53},{"s":13,"x":1070,"y":2.43},{"s":13,"x":1060,"y":2.35},{"s":13,"x":1048,"y":2.33},
{"s":13,"x":1033,"y":2.36},{"s":13,"x":1018,"y":2.60},{"s":13,"x":1003,"y":2.45},{"s":13,"x":981,"y":2.20},{"s":13,"x":964,"y":2.23},{"s":13,"x":946,"y":2.16},{"s":13,"x":929,"y":2.65},{"s":13,"x":907,"y":2.09},{"s":13,"x":881,"y":2.19},{"s":13,"x":859,"y":2.32},{"s":13,"x":837,"y":3.14},{"s":13,"x":824,"y":2.39},{"s":13,"x":811,"y":2.06},{"s":13,"x":794,"y":2.09},{"s":13,"x":772,"y":2.49},{"s":13,"x":759,"y":2.72},{"s":13,"x":748,"y":3.87},{"s":13,"x":737,"y":3.14},{"s":13,"x":722,"y":3.57},{"s":13,"x":713,"y":4.22},{"s":13,"x":704,"y":4.94},{"s":13,"x":693,"y":5.83},{"s":13,"x":678,"y":5.27},{"s":13,"x":665,"y":4.71},{"s":13,"x":652,"y":5.43},{"s":13,"x":641,"y":6.58},{"s":13,"x":632,"y":6.97},{"s":13,"x":624,"y":6.64},{"s":13,"x":615,"y":6.15},{"s":13,"x":604,"y":4.62},{"s":13,"x":591,"y":3.21},{"s":13,"x":578,"y":3.04},{"s":13,"x":556,"y":3.04},{"s":13,"x":534,"y":2.98},{"s":13,"x":525,"y":2.88},{"s":13,"x":517,"y":2.88}
]},
"mark": {"type": "line", "interpolate": "monotone", "color": "#111111", "strokeWidth": 1.35, "clip": true},
"encoding": {
"x": {"field": "x", "type": "quantitative",
 "scale": {"domain": [516.7, 1603.5], "reverse": true, "nice": false, "zero": false},
 "axis": {"title": "Raman Shift (cm-1)", "values": [1600, 1400, 1200, 1000, 800, 600], "format": "d", "grid": false,
  "tickSize": 13, "tickColor": "#000", "tickWidth": 1, "domainColor": "#222", "domainWidth": 1.5,
  "labelFontSize": 23, "labelColor": "#000", "labelPadding": 3, "labelFlush": false, "labelOverlap": false,
  "titleFontSize": 32, "titleFontWeight": "normal", "titleColor": "#000", "titleBaseline": "alphabetic", "titleY": 96, "titleX": 406, "titleAlign": "center"}},
"y": {"field": "y", "type": "quantitative",
 "scale": {"domain": [1.19, 21.34], "nice": false, "zero": false},
 "axis": {"title": "Intensity", "values": [5, 10, 15, 20], "grid": false,
  "tickSize": 13, "tickColor": "#000", "tickWidth": 1, "domainColor": "#222", "domainWidth": 1.5,
  "labelFontSize": 23, "labelColor": "#000", "labelPadding": 3, "labelFlush": false, "labelOverlap": false,
  "titleFontSize": 33, "titleFontWeight": "normal", "titleColor": "#000", "titleAngle": -90, "titleBaseline": "alphabetic", "titleX": -57, "titleY": 243, "titleAlign": "center"}},
"detail": {"field": "s", "type": "nominal"}
}
},
{
"data": {"values": [{"y": 21.34}]},
"mark": {"type": "rule", "color": "#444", "strokeWidth": 1.5},
"encoding": {"y": {"field": "y", "type": "quantitative"}}
},
{
"data": {"values": [{"x": 1578.7, "y": 20.06, "label": "120 C"}]},
"mark": {"type": "text", "align": "left", "baseline": "alphabetic", "fontSize": 22, "color": "#000"},
"encoding": {"x": {"field": "x", "type": "quantitative"}, "y": {"field": "y", "type": "quantitative"}, "text": {"field": "label"}}
},
{
"data": {"values": [{"x": 1589.1, "y": 18.92, "label": "13 spectra @ 50 scans each"}]},
"mark": {"type": "text", "align": "left", "baseline": "alphabetic", "fontSize": 20, "color": "#000"},
"encoding": {"x": {"field": "x", "type": "quantitative"}, "y": {"field": "y", "type": "quantitative"}, "text": {"field": "label"}}
},
{
"data": {"values": [
 {"x": 1546.0, "y": 16.92, "label": "(-C=C-)str"},
 {"x": 1164.1, "y": 20.16, "label": "(=C-C=)str"},
 {"x": 708.9, "y": 16.50, "label": "(C-Cl)str"}]},
"mark": {"type": "text", "align": "left", "baseline": "alphabetic", "fontSize": 24, "color": "#000"},
"encoding": {"x": {"field": "x", "type": "quantitative"}, "y": {"field": "y", "type": "quantitative"}, "text": {"field": "label"}}
},
{
"data": {"values": [
 {"x": 1415.2, "y": 11.75, "label": "(CH"},
 {"x": 1342.6, "y": 11.75, "label": ")def"}]},
"mark": {"type": "text", "align": "left", "baseline": "alphabetic", "fontSize": 25, "color": "#000"},
"encoding": {"x": {"field": "x", "type": "quantitative"}, "y": {"field": "y", "type": "quantitative"}, "text": {"field": "label"}}
},
{
"data": {"values": [{"x": 1356.3, "y": 11.46, "label": "2"}]},
"mark": {"type": "text", "align": "left", "baseline": "alphabetic", "fontSize": 18, "color": "#000"},
"encoding": {"x": {"field": "x", "type": "quantitative"}, "y": {"field": "y", "type": "quantitative"}, "text": {"field": "label"}}
},
{
"data": {"values": [
 {"x": 893.4, "y": 20.06, "label": "90 % PVC 10 % PVP"},
 {"x": 1028.1, "y": 14.01, "label": "LOW PVP"}]},
"mark": {"type": "text", "align": "left", "baseline": "alphabetic", "fontSize": 26, "color": "#000"},
"encoding": {"x": {"field": "x", "type": "quantitative"}, "y": {"field": "y", "type": "quantitative"}, "text": {"field": "label"}}
},
{
"data": {"values": [{"x": 1375.6, "y": 10.78, "x2": 1417.8, "y2": 9.24}]},
"mark": {"type": "rule", "color": "#555", "strokeWidth": 1},
"encoding": {"x": {"field": "x", "type": "quantitative"}, "y": {"field": "y", "type": "quantitative"}, "x2": {"field": "x2"}, "y2": {"field": "y2"}}
},
{
"data": {"values": [{"x": 1421.7, "y": 9.09}]},
"mark": {"type": "point", "shape": "M0,-1L0.6,1L-0.6,1Z", "filled": true, "color": "#111", "opacity": 1, "size": 144, "angle": 214},
"encoding": {"x": {"field": "x", "type": "quantitative"}, "y": {"field": "y", "type": "quantitative"}}
}
]
}
